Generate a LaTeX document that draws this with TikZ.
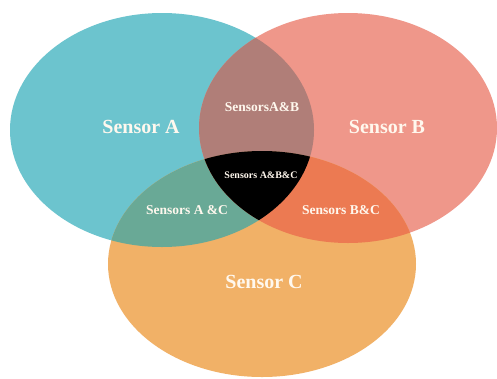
\documentclass[tikz,border=0pt]{standalone}
\usepackage{fontspec}
\setmainfont{Liberation Serif}
\begin{document}
\definecolor{cA}{HTML}{6CC4CE}
\definecolor{cB}{HTML}{EF978A}
\definecolor{cC}{HTML}{F1B167}
\definecolor{cAB}{HTML}{B07E78}
\definecolor{cAC}{HTML}{69A996}
\definecolor{cBC}{HTML}{EC7A52}
\definecolor{cABC}{HTML}{000000}
\definecolor{txt}{HTML}{FFF8EE}
\begin{tikzpicture}[x=1pt,y=-1pt,
  big/.style={text=txt,font=\bfseries\fontsize{20}{22}\selectfont},
  mid/.style={text=txt,font=\bfseries\fontsize{13.5}{15}\selectfont},
  small/.style={text=txt,font=\bfseries\fontsize{10}{11}\selectfont}]
\useasboundingbox (0,0) rectangle (497,378);
\fill[white] (0,0) rectangle (497,378);
% circle centres
\coordinate (A) at (162,130);
\coordinate (B) at (348,128);
\coordinate (C) at (262,264);
\def\ellA{(A) ellipse [x radius=152pt, y radius=117pt]}
\def\ellB{(B) ellipse [x radius=149pt, y radius=115pt]}
\def\ellC{(C) ellipse [x radius=154pt, y radius=113pt]}
% single sets
\fill[cA] \ellA;
\fill[cB] \ellB;
\fill[cC] \ellC;
% pairwise overlaps
\begin{scope}
  \clip \ellA;
  \fill[cAB] \ellB;
  \fill[cAC] \ellC;
\end{scope}
\begin{scope}
  \clip \ellB;
  \fill[cBC] \ellC;
\end{scope}
% triple overlap
\begin{scope}
  \clip \ellA;
  \clip \ellB;
  \fill[cABC] \ellC;
\end{scope}
% labels
\node[big] (lA) at (141,127) {Sensor A};
\node[big] (lB) at (387,127) {Sensor B};
\node[big] (lC) at (264,282) {Sensor C};
\node[mid] (lAB) at (262,107) {SensorsA\&B};
\node[small] (lABC) at (261,175) {Sensors A\&B\&C};
\node[mid] (lAC) at (187,210) {Sensors A \&C};
\node[mid] (lBC) at (341,210) {Sensors B\&C};
\end{tikzpicture}
\end{document}
